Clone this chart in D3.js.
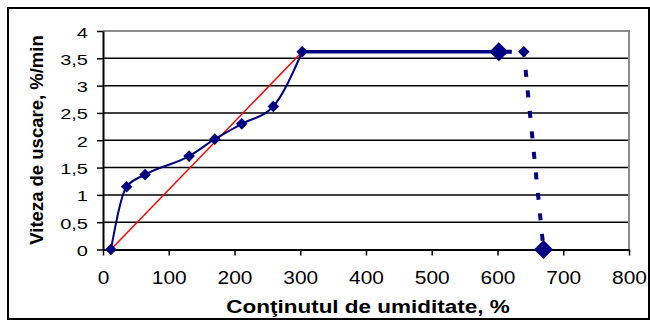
<!DOCTYPE html>
<html>
<head>
<meta charset="utf-8">
<script src="https://cdn.jsdelivr.net/npm/d3@7"></script>
<style>
  body { margin: 0; background: #fff; }
  svg { display: block; font-family: "Liberation Sans", Arial, sans-serif; }
</style>
</head>
<body>
<div id="chart"></div>
<script>
// tick values and labels (romanian decimal comma)
var xTicks = [0, 100, 200, 300, 400, 500, 600, 700, 800];
var yTicks = [0, 0.5, 1, 1.5, 2, 2.5, 3, 3.5, 4];
var yTickLabels = ["0", "0,5", "1", "1,5", "2", "2,5", "3", "3,5", "4"];

// drying rate curve (smoothed part)
var curveX = [12, 36, 64, 131, 170, 211, 259, 303];
var curveY = [0, 1.15, 1.37, 1.71, 2.02, 2.30, 2.62, 3.62];

// constant rate period
var plateauX = [303, 602];
var plateauY = [3.62, 3.62];

// heating up period (dashed)
var fallX = [602, 640, 670];
var fallY = [3.62, 3.62, 0];

// red straight line
var trendX = [12, 303];
var trendY = [0, 3.62];

// big markers
var bigX = [602, 670];
var bigY = [3.62, 0];

var margin = {top: 31, right: 21, bottom: 71.5, left: 103},
    width = 650 - margin.left - margin.right,
    height = 321 - margin.top - margin.bottom;

var x = d3.scaleLinear().domain([0, 800]).range([0, width]);
var y = d3.scaleLinear().domain([0, 4]).range([height, 0]);

var svg = d3.select("#chart").append("svg")
    .attr("width", 650)
    .attr("height", 321);

// outer frame of the chart
svg.append("rect")
    .attr("x", 8).attr("y", 8)
    .attr("width", 641).attr("height", 311)
    .attr("fill", "none")
    .attr("stroke", "#000")
    .attr("stroke-width", 2);

var g = svg.append("g")
    .attr("transform", "translate(" + margin.left + "," + margin.top + ")");

// horizontal gridlines
g.append("g").selectAll("line")
    .data(yTicks.filter(function(d) { return d > 0 && d < 4; }))
  .enter().append("line")
    .attr("x1", 0).attr("x2", width)
    .attr("y1", function(d) { return y(d); })
    .attr("y2", function(d) { return y(d); })
    .attr("stroke", "#000")
    .attr("stroke-width", 1.5);

// grey plot area border (top + right)
g.append("path")
    .attr("d", "M0," + y(4) + "H" + x(800) + "V" + y(0))
    .attr("fill", "none")
    .attr("stroke", "#8c8c8c")
    .attr("stroke-width", 2);

var xAxis = d3.axisBottom(x).tickValues(xTicks).tickSize(6).tickSizeOuter(0);
var yAxis = d3.axisLeft(y).tickValues(yTicks).tickSize(6).tickSizeOuter(0)
    .tickFormat(function(d, i) { return yTickLabels[i]; });

var gx = g.append("g")
    .attr("transform", "translate(0," + height + ")")
    .call(xAxis);
gx.selectAll("text")
    .attr("y", 34.5).attr("dy", null)
    .attr("transform", "scale(1.1,1)")
    .style("font-size", "19px")
    .attr("fill", "#000");

var gy = g.append("g").call(yAxis);
gy.selectAll("text")
    .attr("x", -15 / 1.3).attr("dy", null).attr("y", 6)
    .attr("transform", "scale(1.3,1)")
    .style("font-size", "15.4px")
    .attr("fill", "#000");

[gx, gy].forEach(function(a) {
  a.select(".domain").attr("stroke", "#000").attr("stroke-width", 2);
  a.selectAll(".tick line").attr("stroke", "#000").attr("stroke-width", 1.5);
});

var line = d3.line()
    .x(function(d) { return x(d[0]); })
    .y(function(d) { return y(d[1]); });

// red line
g.append("path")
    .datum(d3.zip(trendX, trendY))
    .attr("d", line)
    .attr("fill", "none")
    .attr("stroke", "#ff0000")
    .attr("stroke-width", 1.5);

// smoothed blue curve
g.append("path")
    .datum(d3.zip(curveX, curveY))
    .attr("d", line.curve(d3.curveMonotoneX))
    .attr("fill", "none")
    .attr("stroke", "#000080")
    .attr("stroke-width", 2);
line.curve(d3.curveLinear);

g.append("path")
    .datum(d3.zip(plateauX, plateauY))
    .attr("d", line)
    .attr("fill", "none")
    .attr("stroke", "#000080")
    .attr("stroke-width", 3.5);

// dashed segments, each with its own dash start (like excel)
var dashOffsets = [14.6, 2.4];
d3.pairs(d3.zip(fallX, fallY)).forEach(function(seg, i) {
  g.append("path")
      .datum(seg)
      .attr("d", line)
      .attr("fill", "none")
      .attr("stroke", "#000080")
      .attr("stroke-width", 4)
      .attr("stroke-dasharray", "7,13.6")
      .attr("stroke-dashoffset", dashOffsets[i]);
});

// markers
var small = d3.zip(curveX, curveY).concat([[fallX[1], fallY[1]]]);
var big = d3.zip(bigX, bigY);

g.selectAll(".small")
    .data(small)
  .enter().append("path")
    .attr("class", "small")
    .attr("d", d3.symbol(d3.symbolSquare, 2 * 5.8 * 5.8))
    .attr("transform", function(d) { return "translate(" + x(d[0]) + "," + y(d[1]) + ") rotate(45)"; })
    .attr("fill", "#000080");

g.selectAll(".big")
    .data(big)
  .enter().append("path")
    .attr("class", "big")
    .attr("d", d3.symbol(d3.symbolSquare, 2 * 9.5 * 9.5))
    .attr("transform", function(d) { return "translate(" + x(d[0]) + "," + y(d[1]) + ") rotate(45)"; })
    .attr("fill", "#000080");

// axis titles
svg.append("text")
    .attr("transform", "translate(368,313) scale(1.25,1)")
    .attr("text-anchor", "middle")
    .style("font-size", "18px")
    .style("font-weight", "bold")
    .text("Conţinutul de umiditate, %");

svg.append("text")
    .attr("transform", "translate(43,140) rotate(-90)")
    .attr("text-anchor", "middle")
    .style("font-size", "18.5px")
    .style("font-weight", "bold")
    .text("Viteza de uscare, %/min");
</script>
</body>
</html>
